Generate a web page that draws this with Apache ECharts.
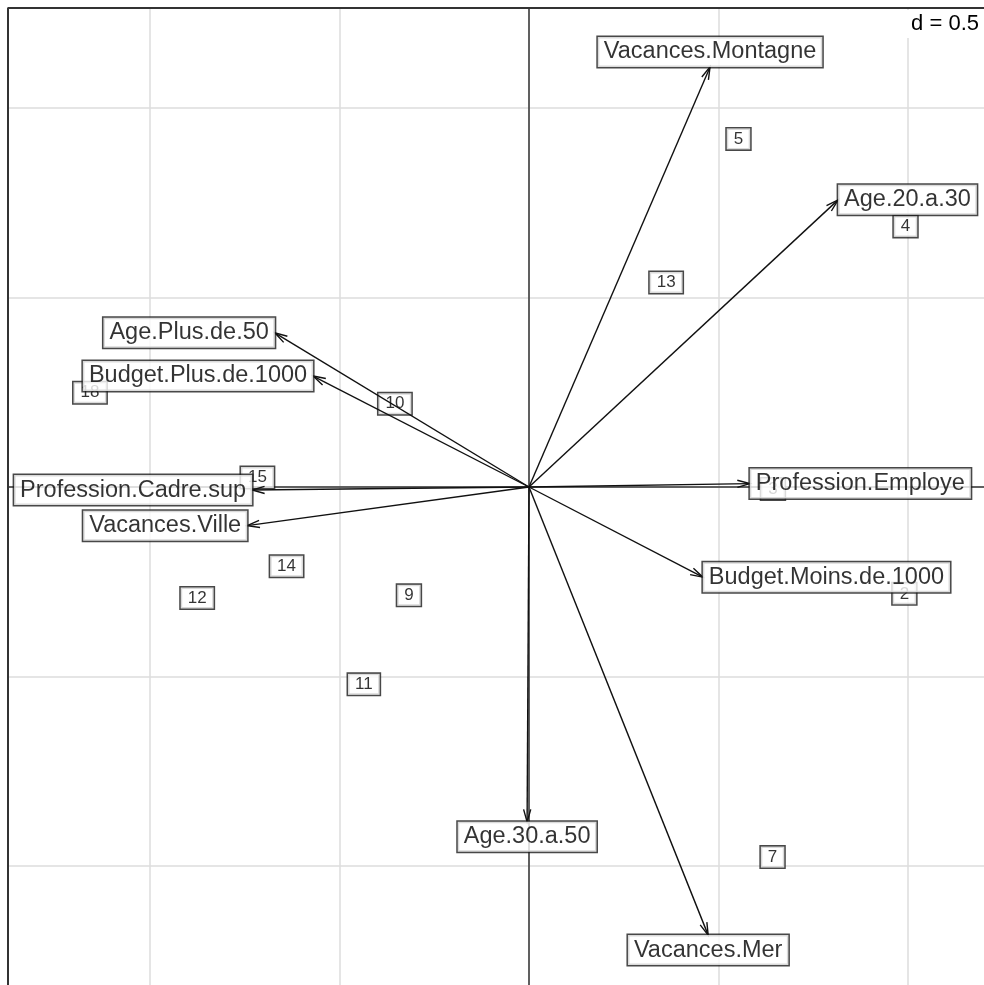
<!DOCTYPE html>
<html>
<head>
<meta charset="utf-8">
<title>s.arrow</title>
<script src="https://cdn.jsdelivr.net/npm/echarts@6/dist/echarts.min.js"></script>
<style>
  html, body { margin: 0; padding: 0; background: #fff; }
  #chart { width: 984px; height: 985px; }
</style>
</head>
<body>
<div id="chart"></div>
<script>
// Variable (column) coordinates: arrow tips
const varNames = ['Vacances.Montagne', 'Age.20.a.30', 'Profession.Employe', 'Budget.Moins.de.1000',
  'Vacances.Mer', 'Age.30.a.50', 'Vacances.Ville', 'Profession.Cadre.sup',
  'Budget.Plus.de.1000', 'Age.Plus.de.50'];
const varX = [0.478, 0.816, 0.583, 0.459, 0.473, -0.005, -0.744, -0.731, -0.570, -0.671];
const varY = [1.109, 0.758, 0.009, -0.238, -1.183, -0.884, -0.102, -0.008, 0.293, 0.407];

// Individual (row) coordinates
const indNames = ['3', '2', '4', '5', '7', '9', '10', '11', '12', '13', '14', '15', '18'];
const indX = [0.644, 0.991, 0.994, 0.553, 0.643, -0.317, -0.354, -0.436, -0.876, 0.362, -0.640, -0.717, -1.159];
const indY = [-0.005, -0.282, 0.688, 0.919, -0.977, -0.286, 0.220, -0.521, -0.293, 0.540, -0.209, 0.025, 0.249];

// Grid step and plotting window
const gridStep = 0.5;
const axisMin = -1.5, axisMax = 1.5;
const frameXMin = -1.3754, frameYMax = 1.2645;
const scaleText = 'd = 0.5';

const FONT = 'Liberation Sans';

function labelSide(x, y) {
  if (Math.abs(x) > Math.abs(y)) return x > 0 ? 'right' : 'left';
  return y > 0 ? 'top' : 'bottom';
}

function renderArrow(params, api) {
  const p0 = api.coord([0, 0]);
  const p1 = api.coord([api.value(0), api.value(1)]);
  const ang = Math.atan2(p1[1] - p0[1], p1[0] - p0[0]);
  const L = 13, A = 16 * Math.PI / 180;
  const h1 = [p1[0] - L * Math.cos(ang - A), p1[1] - L * Math.sin(ang - A)];
  const h2 = [p1[0] - L * Math.cos(ang + A), p1[1] - L * Math.sin(ang + A)];
  return {
    type: 'group',
    children: [
      { type: 'line', shape: { x1: p0[0], y1: p0[1], x2: p1[0], y2: p1[1] },
        style: { stroke: '#111', lineWidth: 1.4 } },
      { type: 'polyline', shape: { points: [h1, p1, h2] },
        style: { stroke: '#111', fill: null, lineWidth: 1.4 } }
    ]
  };
}

const chart = echarts.init(document.getElementById('chart'), null, { renderer: 'canvas' });

const unitPx = 378.8;
const originPx = [529, 487];

const option = {
  animation: false,
  backgroundColor: '#fff',
  grid: {
    left: originPx[0] + axisMin * unitPx,
    top: originPx[1] - axisMax * unitPx,
    width: (axisMax - axisMin) * unitPx,
    height: (axisMax - axisMin) * unitPx,
    outerBoundsMode: 'none',
    containLabel: false,
    show: false
  },
  xAxis: {
    type: 'value', min: axisMin, max: axisMax, interval: gridStep,
    axisLabel: { show: false }, axisTick: { show: false },
    axisLine: { show: true, onZero: true, lineStyle: { color: '#333', width: 1.5 } },
    splitLine: { show: true, lineStyle: { color: '#dcdcdc', width: 1.5 } }
  },
  yAxis: {
    type: 'value', min: axisMin, max: axisMax, interval: gridStep,
    axisLabel: { show: false }, axisTick: { show: false },
    axisLine: { show: true, onZero: true, lineStyle: { color: '#333', width: 1.5 } },
    splitLine: { show: true, lineStyle: { color: '#dcdcdc', width: 1.5 } }
  },
  series: [
    {
      // frame
      type: 'line', silent: true, showSymbol: false, z: 1,
      data: [[frameXMin, axisMin], [frameXMin, frameYMax], [axisMax, frameYMax]],
      lineStyle: { color: '#333', width: 2 }
    },
    {
      // individuals
      type: 'scatter', silent: true, symbolSize: 0, z: 2,
      data: indNames.map((n, i) => ({ name: n, value: [indX[i], indY[i]] })),
      label: {
        show: true, position: 'inside', formatter: '{b}',
        fontFamily: FONT, fontSize: 17, lineHeight: 15, color: '#000',
        backgroundColor: '#fff', borderColor: '#1a1a1a', borderWidth: 1.5, padding: [3, 7]
      }
    },
    {
      // arrows
      type: 'custom', silent: true, z: 3,
      renderItem: renderArrow,
      encode: { x: 0, y: 1 },
      data: varNames.map((n, i) => [varX[i], varY[i]])
    },
    {
      // arrow labels
      type: 'scatter', silent: true, symbolSize: 0, z: 4,
      data: varNames.map((n, i) => ({
        name: n, value: [varX[i], varY[i]],
        label: { position: labelSide(varX[i], varY[i]) }
      })),
      label: {
        show: true, distance: 0, formatter: '{b}',
        fontFamily: FONT, fontSize: 23.5, lineHeight: 22, color: '#000',
        backgroundColor: '#fff', borderColor: '#1a1a1a', borderWidth: 1.5, padding: [4, 6]
      }
    }
  ]
};

chart.setOption(option);

// Mask everything outside the frame (left and top margins), then add the scale note
const corner = chart.convertToPixel({ gridIndex: 0 }, [frameXMin, frameYMax]);
const W = chart.getWidth(), H = chart.getHeight();
chart.setOption({
  graphic: [
    { type: 'rect', z: 100, shape: { x: 0, y: 0, width: corner[0] - 1, height: H }, style: { fill: '#fff' } },
    { type: 'rect', z: 100, shape: { x: 0, y: 0, width: W, height: corner[1] - 1 }, style: { fill: '#fff' } },
    { type: 'rect', z: 100, shape: { x: W - 80, y: corner[1] + 2, width: 80, height: 28 }, style: { fill: '#fff' } },
    { type: 'text', z: 101, right: 5, top: corner[1] + 5,
      style: { text: scaleText, font: '22px "' + FONT + '"', fill: '#000' } }
  ]
});
</script>
</body>
</html>
